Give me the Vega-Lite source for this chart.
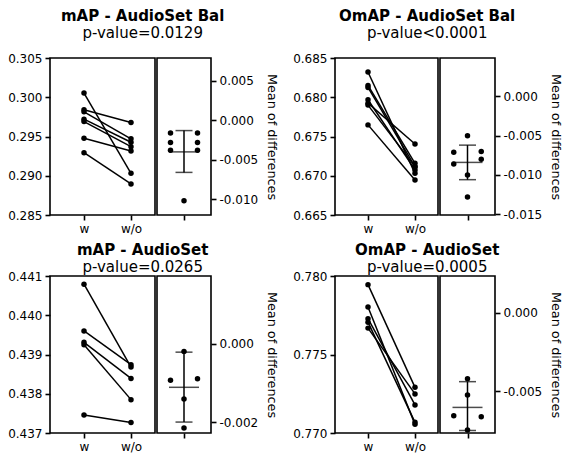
{
  "$schema": "https://vega.github.io/schema/vega-lite/v6.json",
  "padding": {"left": 6, "top": 9, "right": 5, "bottom": 5},
  "datasets": {
    "p1": [
      {"pair": 1, "cond": "w", "value": 0.30053}, {"pair": 1, "cond": "w/o", "value": 0.29031},
      {"pair": 2, "cond": "w", "value": 0.29840}, {"pair": 2, "cond": "w/o", "value": 0.29678},
      {"pair": 3, "cond": "w", "value": 0.29814}, {"pair": 3, "cond": "w/o", "value": 0.29470},
      {"pair": 4, "cond": "w", "value": 0.29721}, {"pair": 4, "cond": "w/o", "value": 0.29427},
      {"pair": 5, "cond": "w", "value": 0.29690}, {"pair": 5, "cond": "w/o", "value": 0.29371},
      {"pair": 6, "cond": "w", "value": 0.29478}, {"pair": 6, "cond": "w/o", "value": 0.29316},
      {"pair": 7, "cond": "w", "value": 0.29294}, {"pair": 7, "cond": "w/o", "value": 0.28895}
    ],
    "d1": [
      {"side": "L", "diff": -0.0016}, {"side": "R", "diff": -0.0016},
      {"side": "L", "diff": -0.0028}, {"side": "R", "diff": -0.0028},
      {"side": "L", "diff": -0.0038}, {"side": "R", "diff": -0.0038},
      {"side": "C", "diff": -0.0102}
    ],
    "s1": [{"mean": -0.0040, "lo": -0.0066, "hi": -0.0013}],
    "p2": [
      {"pair": 1, "cond": "w", "value": 0.68321}, {"pair": 1, "cond": "w/o", "value": 0.67031},
      {"pair": 2, "cond": "w", "value": 0.68150}, {"pair": 2, "cond": "w/o", "value": 0.67159},
      {"pair": 3, "cond": "w", "value": 0.68125}, {"pair": 3, "cond": "w/o", "value": 0.67116},
      {"pair": 4, "cond": "w", "value": 0.67968}, {"pair": 4, "cond": "w/o", "value": 0.67074},
      {"pair": 5, "cond": "w", "value": 0.67925}, {"pair": 5, "cond": "w/o", "value": 0.67405},
      {"pair": 6, "cond": "w", "value": 0.67900}, {"pair": 6, "cond": "w/o", "value": 0.67116},
      {"pair": 7, "cond": "w", "value": 0.67648}, {"pair": 7, "cond": "w/o", "value": 0.66946}
    ],
    "d2": [
      {"side": "C", "diff": -0.0050}, {"side": "L", "diff": -0.0071},
      {"side": "R", "diff": -0.0070}, {"side": "R", "diff": -0.0080},
      {"side": "L", "diff": -0.0086}, {"side": "C", "diff": -0.0100},
      {"side": "C", "diff": -0.0128}
    ],
    "s2": [{"mean": -0.0084, "lo": -0.0106, "hi": -0.0062}],
    "p3": [
      {"pair": 1, "cond": "w", "value": 0.44079}, {"pair": 1, "cond": "w/o", "value": 0.43868},
      {"pair": 2, "cond": "w", "value": 0.43960}, {"pair": 2, "cond": "w/o", "value": 0.43874},
      {"pair": 3, "cond": "w", "value": 0.43931}, {"pair": 3, "cond": "w/o", "value": 0.43839},
      {"pair": 4, "cond": "w", "value": 0.43925}, {"pair": 4, "cond": "w/o", "value": 0.43785},
      {"pair": 5, "cond": "w", "value": 0.43746}, {"pair": 5, "cond": "w/o", "value": 0.43727}
    ],
    "d3": [
      {"side": "C", "diff": -0.00019}, {"side": "L", "diff": -0.00093},
      {"side": "R", "diff": -0.00089}, {"side": "C", "diff": -0.00141},
      {"side": "C", "diff": -0.00215}
    ],
    "s3": [{"mean": -0.00111, "lo": -0.0020, "hi": -0.00021}],
    "p4": [
      {"pair": 1, "cond": "w", "value": 0.77945}, {"pair": 1, "cond": "w/o", "value": 0.77291},
      {"pair": 2, "cond": "w", "value": 0.77802}, {"pair": 2, "cond": "w/o", "value": 0.77055},
      {"pair": 3, "cond": "w", "value": 0.77728}, {"pair": 3, "cond": "w/o", "value": 0.77179},
      {"pair": 4, "cond": "w", "value": 0.77706}, {"pair": 4, "cond": "w/o", "value": 0.77068},
      {"pair": 5, "cond": "w", "value": 0.77668}, {"pair": 5, "cond": "w/o", "value": 0.77249}
    ],
    "d4": [
      {"side": "C", "diff": -0.00421}, {"side": "C", "diff": -0.00524},
      {"side": "L", "diff": -0.00656}, {"side": "R", "diff": -0.00662},
      {"side": "C", "diff": -0.00747}
    ],
    "s4": [{"mean": -0.00603, "lo": -0.0075, "hi": -0.00439}]
  },
  "vconcat": [
    {
      "hconcat": [
        {
          "title": {"text": "mAP - AudioSet Bal", "subtitle": "p-value=0.0129", "offset": 10, "font": "DejaVu Sans", "fontSize": 15, "fontWeight": "bold", "color": "black", "subtitleFont": "DejaVu Sans", "subtitleFontSize": 15, "subtitleColor": "black", "subtitlePadding": 2, "anchor": "middle"},
          "spacing": 0,
          "hconcat": [
            {
              "width": 105, "height": 157,
              "data": {"name": "p1"},
              "encoding": {
                "x": {"field": "cond", "type": "nominal", "scale": {"type": "point", "domain": ["w", "w/o"], "range": [34, 81], "padding": 0}, "axis": {"title": null, "labelAngle": 0, "domain": false}},
                "y": {"field": "value", "type": "quantitative", "scale": {"domain": [0.285, 0.305], "zero": false, "nice": false}, "axis": {"title": null, "values": [0.285, 0.29, 0.295, 0.3, 0.305], "format": ".3f", "domain": false}}
              },
              "layer": [
                {"mark": {"type": "line", "color": "black", "strokeWidth": 1.5}, "encoding": {"detail": {"field": "pair", "type": "nominal"}}},
                {"mark": {"type": "circle", "color": "black", "size": 30, "opacity": 1}}
              ]
            },
            {
              "width": 54, "height": 157,
              "layer": [
                {"data": {"name": "d1"}, "mark": {"type": "circle", "color": "black", "size": 30, "opacity": 1},
                 "encoding": {
                   "x": {"field": "side", "type": "nominal", "scale": {"type": "point", "domain": ["L", "C", "R"], "padding": 3.15}, "axis": {"title": null, "labels": false, "values": ["C"], "domain": false}},
                   "y": {"field": "diff", "type": "quantitative", "scale": {"domain": [-0.0120, 0.0079], "zero": false, "nice": false}, "axis": {"orient": "right", "title": "Mean of differences", "values": [0.005, 0, -0.005, -0.01], "labelExpr": "replace(format(datum.value, '.3f'), '\u2212', '-')", "domain": false}}}},
                {"data": {"name": "s1"}, "mark": {"type": "rule", "color": "black", "strokeWidth": 1.5},
                 "encoding": {"x": {"datum": "C", "type": "nominal"}, "y": {"field": "lo", "type": "quantitative"}, "y2": {"field": "hi"}}},
                {"data": {"name": "s1"}, "mark": {"type": "tick", "color": "black", "size": 17, "thickness": 1.5},
                 "encoding": {"x": {"datum": "C", "type": "nominal"}, "y": {"field": "lo", "type": "quantitative"}}},
                {"data": {"name": "s1"}, "mark": {"type": "tick", "color": "black", "size": 17, "thickness": 1.5},
                 "encoding": {"x": {"datum": "C", "type": "nominal"}, "y": {"field": "hi", "type": "quantitative"}}},
                {"data": {"name": "s1"}, "mark": {"type": "tick", "color": "black", "size": 30, "thickness": 1.5},
                 "encoding": {"x": {"datum": "C", "type": "nominal"}, "y": {"field": "mean", "type": "quantitative"}}}
              ]
            }
          ]
        },
        {
          "title": {"text": "OmAP - AudioSet Bal", "subtitle": "p-value<0.0001", "offset": 10, "font": "DejaVu Sans", "fontSize": 15, "fontWeight": "bold", "color": "black", "subtitleFont": "DejaVu Sans", "subtitleFontSize": 15, "subtitleColor": "black", "subtitlePadding": 2, "anchor": "middle"},
          "spacing": 0,
          "hconcat": [
            {
              "width": 103, "height": 157,
              "data": {"name": "p2"},
              "encoding": {
                "x": {"field": "cond", "type": "nominal", "scale": {"type": "point", "domain": ["w", "w/o"], "range": [33, 80], "padding": 0}, "axis": {"title": null, "labelAngle": 0, "domain": false}},
                "y": {"field": "value", "type": "quantitative", "scale": {"domain": [0.665, 0.685], "zero": false, "nice": false}, "axis": {"title": null, "values": [0.665, 0.67, 0.675, 0.68, 0.685], "format": ".3f", "domain": false}}
              },
              "layer": [
                {"mark": {"type": "line", "color": "black", "strokeWidth": 1.5}, "encoding": {"detail": {"field": "pair", "type": "nominal"}}},
                {"mark": {"type": "circle", "color": "black", "size": 30, "opacity": 1}}
              ]
            },
            {
              "width": 55, "height": 157,
              "layer": [
                {"data": {"name": "d2"}, "mark": {"type": "circle", "color": "black", "size": 30, "opacity": 1},
                 "encoding": {
                   "x": {"field": "side", "type": "nominal", "scale": {"type": "point", "domain": ["L", "C", "R"], "padding": 3.15}, "axis": {"title": null, "labels": false, "values": ["C"], "domain": false}},
                   "y": {"field": "diff", "type": "quantitative", "scale": {"domain": [-0.0151, 0.0049], "zero": false, "nice": false}, "axis": {"orient": "right", "title": "Mean of differences", "values": [0, -0.005, -0.01, -0.015], "labelExpr": "replace(format(datum.value, '.3f'), '\u2212', '-')", "domain": false}}}},
                {"data": {"name": "s2"}, "mark": {"type": "rule", "color": "black", "strokeWidth": 1.5},
                 "encoding": {"x": {"datum": "C", "type": "nominal"}, "y": {"field": "lo", "type": "quantitative"}, "y2": {"field": "hi"}}},
                {"data": {"name": "s2"}, "mark": {"type": "tick", "color": "black", "size": 17, "thickness": 1.5},
                 "encoding": {"x": {"datum": "C", "type": "nominal"}, "y": {"field": "lo", "type": "quantitative"}}},
                {"data": {"name": "s2"}, "mark": {"type": "tick", "color": "black", "size": 17, "thickness": 1.5},
                 "encoding": {"x": {"datum": "C", "type": "nominal"}, "y": {"field": "hi", "type": "quantitative"}}},
                {"data": {"name": "s2"}, "mark": {"type": "tick", "color": "black", "size": 30, "thickness": 1.5},
                 "encoding": {"x": {"datum": "C", "type": "nominal"}, "y": {"field": "mean", "type": "quantitative"}}}
              ]
            }
          ]
        }
      ]
    },
    {
      "hconcat": [
        {
          "title": {"text": "mAP - AudioSet", "subtitle": "p-value=0.0265", "offset": -6, "font": "DejaVu Sans", "fontSize": 15, "fontWeight": "bold", "color": "black", "subtitleFont": "DejaVu Sans", "subtitleFontSize": 15, "subtitleColor": "black", "subtitlePadding": 2, "anchor": "middle"},
          "spacing": 0,
          "hconcat": [
            {
              "width": 105, "height": 157,
              "data": {"name": "p3"},
              "encoding": {
                "x": {"field": "cond", "type": "nominal", "scale": {"type": "point", "domain": ["w", "w/o"], "range": [34, 81], "padding": 0}, "axis": {"title": null, "labelAngle": 0, "domain": false}},
                "y": {"field": "value", "type": "quantitative", "scale": {"domain": [0.437, 0.441], "zero": false, "nice": false}, "axis": {"title": null, "values": [0.437, 0.438, 0.439, 0.44, 0.441], "format": ".3f", "domain": false}}
              },
              "layer": [
                {"mark": {"type": "line", "color": "black", "strokeWidth": 1.5}, "encoding": {"detail": {"field": "pair", "type": "nominal"}}},
                {"mark": {"type": "circle", "color": "black", "size": 30, "opacity": 1}}
              ]
            },
            {
              "width": 54, "height": 157,
              "layer": [
                {"data": {"name": "d3"}, "mark": {"type": "circle", "color": "black", "size": 30, "opacity": 1},
                 "encoding": {
                   "x": {"field": "side", "type": "nominal", "scale": {"type": "point", "domain": ["L", "C", "R"], "padding": 3.15}, "axis": {"title": null, "labels": false, "values": ["C"], "domain": false}},
                   "y": {"field": "diff", "type": "quantitative", "scale": {"domain": [-0.00228, 0.00174], "zero": false, "nice": false}, "axis": {"orient": "right", "title": "Mean of differences", "values": [0, -0.002], "labelExpr": "replace(format(datum.value, '.3f'), '\u2212', '-')", "domain": false}}}},
                {"data": {"name": "s3"}, "mark": {"type": "rule", "color": "black", "strokeWidth": 1.5},
                 "encoding": {"x": {"datum": "C", "type": "nominal"}, "y": {"field": "lo", "type": "quantitative"}, "y2": {"field": "hi"}}},
                {"data": {"name": "s3"}, "mark": {"type": "tick", "color": "black", "size": 17, "thickness": 1.5},
                 "encoding": {"x": {"datum": "C", "type": "nominal"}, "y": {"field": "lo", "type": "quantitative"}}},
                {"data": {"name": "s3"}, "mark": {"type": "tick", "color": "black", "size": 17, "thickness": 1.5},
                 "encoding": {"x": {"datum": "C", "type": "nominal"}, "y": {"field": "hi", "type": "quantitative"}}},
                {"data": {"name": "s3"}, "mark": {"type": "tick", "color": "black", "size": 30, "thickness": 1.5},
                 "encoding": {"x": {"datum": "C", "type": "nominal"}, "y": {"field": "mean", "type": "quantitative"}}}
              ]
            }
          ]
        },
        {
          "title": {"text": "OmAP - AudioSet", "subtitle": "p-value=0.0005", "offset": -6, "font": "DejaVu Sans", "fontSize": 15, "fontWeight": "bold", "color": "black", "subtitleFont": "DejaVu Sans", "subtitleFontSize": 15, "subtitleColor": "black", "subtitlePadding": 2, "anchor": "middle"},
          "spacing": 0,
          "hconcat": [
            {
              "width": 103, "height": 157,
              "data": {"name": "p4"},
              "encoding": {
                "x": {"field": "cond", "type": "nominal", "scale": {"type": "point", "domain": ["w", "w/o"], "range": [33, 80], "padding": 0}, "axis": {"title": null, "labelAngle": 0, "domain": false}},
                "y": {"field": "value", "type": "quantitative", "scale": {"domain": [0.77, 0.78], "zero": false, "nice": false}, "axis": {"title": null, "values": [0.77, 0.775, 0.78], "format": ".3f", "domain": false}}
              },
              "layer": [
                {"mark": {"type": "line", "color": "black", "strokeWidth": 1.5}, "encoding": {"detail": {"field": "pair", "type": "nominal"}}},
                {"mark": {"type": "circle", "color": "black", "size": 30, "opacity": 1}}
              ]
            },
            {
              "width": 55, "height": 157,
              "layer": [
                {"data": {"name": "d4"}, "mark": {"type": "circle", "color": "black", "size": 30, "opacity": 1},
                 "encoding": {
                   "x": {"field": "side", "type": "nominal", "scale": {"type": "point", "domain": ["L", "C", "R"], "padding": 3.15}, "axis": {"title": null, "labels": false, "values": ["C"], "domain": false}},
                   "y": {"field": "diff", "type": "quantitative", "scale": {"domain": [-0.00766, 0.00234], "zero": false, "nice": false}, "axis": {"orient": "right", "title": "Mean of differences", "values": [0, -0.005], "labelExpr": "replace(format(datum.value, '.3f'), '\u2212', '-')", "domain": false}}}},
                {"data": {"name": "s4"}, "mark": {"type": "rule", "color": "black", "strokeWidth": 1.5},
                 "encoding": {"x": {"datum": "C", "type": "nominal"}, "y": {"field": "lo", "type": "quantitative"}, "y2": {"field": "hi"}}},
                {"data": {"name": "s4"}, "mark": {"type": "tick", "color": "black", "size": 17, "thickness": 1.5},
                 "encoding": {"x": {"datum": "C", "type": "nominal"}, "y": {"field": "lo", "type": "quantitative"}}},
                {"data": {"name": "s4"}, "mark": {"type": "tick", "color": "black", "size": 17, "thickness": 1.5},
                 "encoding": {"x": {"datum": "C", "type": "nominal"}, "y": {"field": "hi", "type": "quantitative"}}},
                {"data": {"name": "s4"}, "mark": {"type": "tick", "color": "black", "size": 30, "thickness": 1.5},
                 "encoding": {"x": {"datum": "C", "type": "nominal"}, "y": {"field": "mean", "type": "quantitative"}}}
              ]
            }
          ]
        }
      ]
    }
  ],
  "spacing": 8,
  "config": {
    "font": "DejaVu Sans",
    "concat": {"spacing": 12},
    "view": {"stroke": "black", "strokeWidth": 1.6},
    "axis": {"grid": false, "domain": false, "labelOverlap": false, "tickColor": "black", "tickWidth": 1.6, "tickSize": 5, "labelColor": "black", "labelFontSize": 12, "labelFont": "DejaVu Sans", "labelPadding": 3, "titleColor": "black", "titleFont": "DejaVu Sans", "titleFontWeight": "normal", "titleFontSize": 12.8, "titlePadding": 7}
  }
}
